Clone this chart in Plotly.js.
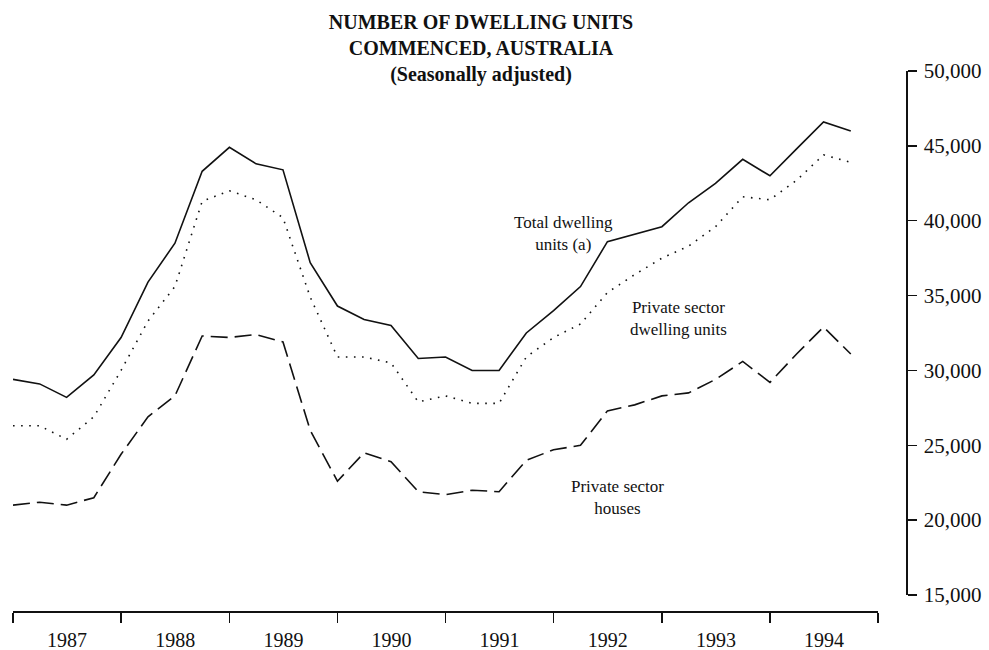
<!DOCTYPE html>
<html>
<head>
<meta charset="utf-8">
<script src="https://cdn.plot.ly/plotly-3.0.1.min.js"></script>
<style>html,body{margin:0;padding:0;background:#fff;}#chart{width:989px;height:650px;}</style>
</head>
<body>
<div id="chart"></div>
<script>
// Quarterly observations (plotted at quarter starts as in the original)
const quarters = [
  '1987-01-01','1987-04-01','1987-07-01','1987-10-01',
  '1988-01-01','1988-04-01','1988-07-01','1988-10-01',
  '1989-01-01','1989-04-01','1989-07-01','1989-10-01',
  '1990-01-01','1990-04-01','1990-07-01','1990-10-01',
  '1991-01-01','1991-04-01','1991-07-01','1991-10-01',
  '1992-01-01','1992-04-01','1992-07-01','1992-10-01',
  '1993-01-01','1993-04-01','1993-07-01','1993-10-01',
  '1994-01-01','1994-04-01','1994-07-01','1994-10-01'
];
const totalDwellings = [29400, 29100, 28200, 29700, 32200, 35900, 38500, 43300,
                        44900, 43800, 43400, 37200, 34300, 33400, 33000, 30800,
                        30900, 30000, 30000, 32500, 34000, 35600, 38600, 39100,
                        39600, 41200, 42500, 44100, 43000, 44800, 46600, 46000];
const privateDwellings = [26300, 26300, 25400, 26900, 30000, 33300, 35600, 41300,
                          42000, 41400, 40200, 34900, 30900, 30900, 30500, 27900,
                          28300, 27800, 27800, 30900, 32200, 33100, 35200, 36400,
                          37500, 38300, 39600, 41600, 41400, 42700, 44400, 43900];
const privateHouses = [21000, 21200, 21000, 21500, 24400, 26900, 28300, 32300,
                       32200, 32400, 31900, 26000, 22600, 24500, 23900, 21900,
                       21700, 22000, 21900, 24000, 24700, 25000, 27300, 27700,
                       28300, 28500, 29400, 30600, 29200, 31100, 32900, 31100];
const seriesNames = ['Total dwelling<br>units (a)', 'Private sector<br>dwelling units', 'Private sector<br>houses'];
const titleLines = ['NUMBER OF DWELLING UNITS', 'COMMENCED, AUSTRALIA', '(Seasonally adjusted)'];

const FONT = '"Liberation Serif", "Times New Roman", "DejaVu Serif", serif';
const INK = '#111';

const traces = [
  {x: quarters, y: totalDwellings, name: seriesNames[0], mode: 'lines', line: {color: INK, width: 1.6}},
  {x: quarters, y: privateDwellings, name: seriesNames[1], mode: 'lines', line: {color: INK, width: 1.6, dash: '1.6px,6.5px'}},
  {x: quarters, y: privateHouses, name: seriesNames[2], mode: 'lines', line: {color: INK, width: 1.6, dash: '17px,7px'}}
];

const layout = {
  width: 989, height: 650, autosize: false,
  paper_bgcolor: '#fff', plot_bgcolor: '#fff',
  margin: {l: 13, r: 83, t: 71, b: 39, pad: 0},
  showlegend: false,
  font: {family: FONT, color: INK, size: 18},
  title: {
    text: '<b>' + titleLines.join('<br>') + '</b>',
    font: {family: FONT, size: 20, color: INK},
    x: 481 / 989, xref: 'container', xanchor: 'center',
    y: 1 - 29 / 650, yref: 'container', yanchor: 'top'
  },
  xaxis: {
    type: 'date',
    range: ['1987-01-01', '1995-01-01'],
    domain: [0, 865 / 893],
    anchor: 'free', position: 0,
    tick0: '1987-01-01', dtick: 'M12',
    ticklabelmode: 'period', tickformat: '%Y',
    ticks: 'outside', ticklen: 10, tickwidth: 1.5, tickcolor: INK,
    showline: true, linecolor: INK, linewidth: 1.5,
    showgrid: false, zeroline: false,
    tickfont: {family: FONT, size: 20, color: INK},
    fixedrange: true
  },
  yaxis: {
    range: [15000, 50000],
    domain: [16 / 540, 1],
    anchor: 'free', position: 1, side: 'right',
    tick0: 15000, dtick: 5000, tickformat: ',d',
    ticks: 'outside', ticklen: 9, tickwidth: 1.5, tickcolor: INK,
    ticklabelstandoff: 3,
    showline: true, linecolor: INK, linewidth: 1.5,
    showgrid: false, zeroline: false,
    tickfont: {family: FONT, size: 21, color: INK},
    fixedrange: true
  },
  annotations: [
    {text: seriesNames[0], xref: 'paper', yref: 'paper', x: 550 / 893, y: (611 - 233) / 540,
     showarrow: false, xanchor: 'center', yanchor: 'middle', align: 'center',
     font: {family: FONT, size: 17, color: INK}},
    {text: seriesNames[1], xref: 'paper', yref: 'paper', x: 665 / 893, y: (611 - 318) / 540,
     showarrow: false, xanchor: 'center', yanchor: 'middle', align: 'center',
     font: {family: FONT, size: 17, color: INK}},
    {text: seriesNames[2], xref: 'paper', yref: 'paper', x: 604 / 893, y: (611 - 497) / 540,
     showarrow: false, xanchor: 'center', yanchor: 'middle', align: 'center',
     font: {family: FONT, size: 17, color: INK}}
  ]
};

Plotly.newPlot('chart', traces, layout, {displayModeBar: false, staticPlot: true});
</script>
</body>
</html>
